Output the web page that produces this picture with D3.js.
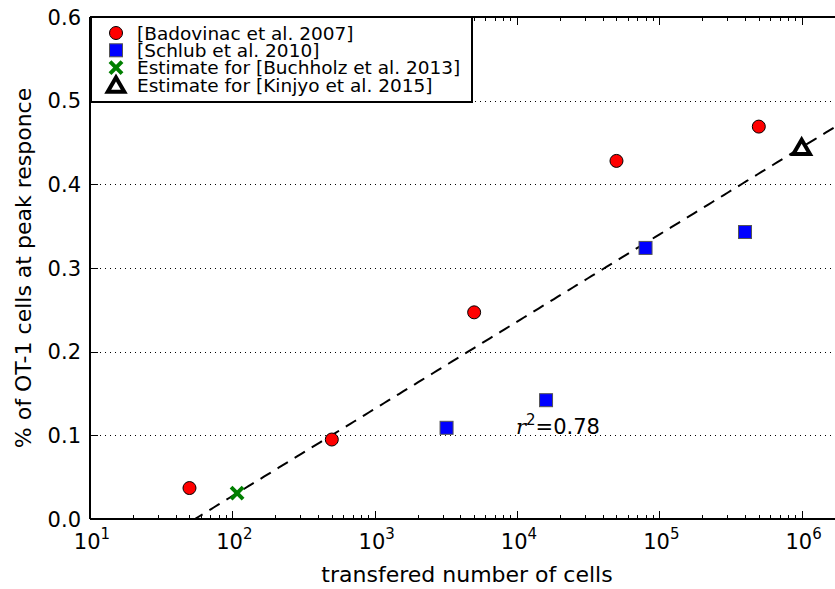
<!DOCTYPE html>
<html>
<head>
<meta charset="utf-8">
<script src="https://cdn.jsdelivr.net/npm/d3@7"></script>
<style>
  body { margin: 0; background: #fff; }
  svg { display: block; font-family: 'DejaVu Sans', sans-serif; }
</style>
</head>
<body>
<svg id="chart" width="835" height="589"></svg>
<script>
// data
const badovinacX = [50, 500, 5000, 50000, 500000]
const badovinacY = [0.037, 0.095, 0.247, 0.428, 0.469]
const schlubX = [3200, 16000, 80000, 400000]
const schlubY = [0.109, 0.142, 0.324, 0.343]
const buchholzX = [108]
const buchholzY = [0.031]
const kinjyoX = [1000000]
const kinjyoY = [0.443]
const fitIntercept = -0.181
const fitSlope = 0.1042
const rSquared = '0.78'
const yTicks = [0.0, 0.1, 0.2, 0.3, 0.4, 0.5, 0.6]
const xTicks = [1e1, 1e2, 1e3, 1e4, 1e5, 1e6]
const legendLabels = [
  '[Badovinac et al. 2007]',
  '[Schlub et al. 2010]',
  'Estimate for [Buchholz et al. 2013]',
  'Estimate for [Kinjyo et al. 2015]'
]

const svg = d3.select('#chart')
const margin = { left: 90, top: 17, bottom: 519 }

const x = d3.scaleLog().domain([10, 2e6]).range([margin.left, margin.left + 142.33 * Math.log10(2e5)])
const y = d3.scaleLinear().domain([0, 0.6]).range([margin.bottom, margin.top])
const xRight = x.range()[1]

// dotted horizontal grid
svg.append('g')
  .selectAll('line')
  .data(yTicks.filter((d) => d > 0 && d < 0.6))
  .join('line')
  .attr('x1', margin.left)
  .attr('x2', xRight)
  .attr('y1', (d) => Math.round(y(d)) + 0.5)
  .attr('y2', (d) => Math.round(y(d)) + 0.5)
  .attr('stroke', '#000')
  .attr('stroke-width', 1)
  .attr('stroke-dasharray', '1,4')

// clip for plot area
svg.append('clipPath').attr('id', 'plotClip')
  .append('rect')
  .attr('x', margin.left).attr('y', margin.top)
  .attr('width', xRight - margin.left).attr('height', margin.bottom - margin.top)

// regression line
const lineData = d3.range(0, 201).map((i) => {
  const lx = 1 + (Math.log10(2e6) - 1) * i / 200
  return [Math.pow(10, lx), fitIntercept + fitSlope * lx]
})
svg.append('path')
  .datum(lineData)
  .attr('clip-path', 'url(#plotClip)')
  .attr('fill', 'none')
  .attr('stroke', '#000')
  .attr('stroke-width', 2)
  .attr('stroke-dasharray', '12,8')
  .attr('d', d3.line().x((d) => x(d[0])).y((d) => y(d[1])))

// axes frame
const frame = svg.append('g')
frame.append('line').attr('x1', margin.left).attr('x2', xRight).attr('y1', margin.bottom).attr('y2', margin.bottom)
frame.append('line').attr('x1', margin.left).attr('x2', xRight).attr('y1', margin.top).attr('y2', margin.top)
frame.append('line').attr('x1', margin.left).attr('x2', margin.left).attr('y1', margin.top).attr('y2', margin.bottom)
frame.selectAll('line').attr('stroke', '#000').attr('stroke-width', 2)

// x ticks (major + minor), inward on bottom and top
const minor = []
for (let e = 1; e < 7; e++) for (let m = 2; m < 10; m++) {
  const v = m * Math.pow(10, e)
  if (v <= 2e6) minor.push(v)
}
const tickG = svg.append('g').attr('stroke', '#000')
function xTickMarks(vals, len, w) {
  tickG.selectAll(null).data(vals).join('line')
    .attr('x1', (d) => Math.round(x(d)) + 0.5).attr('x2', (d) => Math.round(x(d)) + 0.5)
    .attr('y1', margin.bottom).attr('y2', margin.bottom - len).attr('stroke-width', w)
  tickG.selectAll(null).data(vals).join('line')
    .attr('x1', (d) => Math.round(x(d)) + 0.5).attr('x2', (d) => Math.round(x(d)) + 0.5)
    .attr('y1', margin.top).attr('y2', margin.top + len).attr('stroke-width', w)
}
xTickMarks(xTicks, 8, 1)
xTickMarks(minor, 4, 1)
tickG.selectAll(null).data(yTicks).join('line')
  .attr('x1', margin.left).attr('x2', margin.left + 8)
  .attr('y1', (d) => Math.round(y(d)) + 0.5).attr('y2', (d) => Math.round(y(d)) + 0.5)
  .attr('stroke-width', 1)

// x tick labels with superscript
const xl = svg.append('g').selectAll('text').data(xTicks).join('text')
  .attr('x', (d) => x(d) + 2)
  .attr('y', 549)
  .attr('text-anchor', 'middle')
  .attr('font-size', 21)
xl.append('tspan').text('10')
xl.append('tspan').attr('dy', -10).attr('font-size', 15).text((d) => Math.round(Math.log10(d)))

// y tick labels
svg.append('g').selectAll('text').data(yTicks).join('text')
  .attr('x', 81)
  .attr('y', (d) => y(d))
  .attr('dy', '0.36em')
  .attr('text-anchor', 'end')
  .attr('font-size', 21)
  .text((d) => d3.format('.1f')(d))

// axis labels
svg.append('text')
  .attr('x', 467)
  .attr('y', 582)
  .attr('text-anchor', 'middle')
  .attr('font-size', 22)
  .text('transfered number of cells')
svg.append('text')
  .attr('transform', `translate(31,${(margin.top + margin.bottom) / 2}) rotate(-90)`)
  .attr('text-anchor', 'middle')
  .attr('font-size', 22)
  .text('% of OT-1 cells at peak responce')

// markers
const pts = svg.append('g')
pts.selectAll('circle').data(d3.zip(badovinacX, badovinacY)).join('circle')
  .attr('cx', (d) => x(d[0])).attr('cy', (d) => y(d[1]))
  .attr('r', 6.5).attr('fill', '#ff0000').attr('stroke', '#000').attr('stroke-width', 1)
pts.selectAll('rect').data(d3.zip(schlubX, schlubY)).join('rect')
  .attr('x', (d) => x(d[0]) - 6.5).attr('y', (d) => y(d[1]) - 6.5)
  .attr('width', 13).attr('height', 13)
  .attr('fill', '#0000ff').attr('stroke', '#555').attr('stroke-width', 1)
const crossPath = (cx, cy, s) => `M${cx - s},${cy - s}L${cx + s},${cy + s}M${cx - s},${cy + s}L${cx + s},${cy - s}`
pts.selectAll('path.cross').data(d3.zip(buchholzX, buchholzY)).join('path')
  .attr('class', 'cross')
  .attr('d', (d) => crossPath(x(d[0]), y(d[1]), 6))
  .attr('stroke', '#007f00').attr('stroke-width', 4).attr('fill', 'none')
const triPath = (cx, cy, s) => `M${cx},${cy - s}L${cx + s * 0.87},${cy + s * 0.5}L${cx - s * 0.87},${cy + s * 0.5}Z`
pts.selectAll('path.tri').data(d3.zip(kinjyoX, kinjyoY)).join('path')
  .attr('class', 'tri')
  .attr('d', (d) => triPath(x(d[0]), y(d[1]) + 1, 9.5))
  .attr('fill', '#fff').attr('stroke', '#000').attr('stroke-width', 4).attr('stroke-linejoin', 'miter')

// r^2 annotation
const rt = svg.append('text').attr('x', 516).attr('y', 434).attr('font-size', 21)
rt.append('tspan').attr('font-family', 'DejaVu Serif').attr('font-style', 'italic').text('r')
rt.append('tspan').attr('dy', -9).attr('font-size', 15).text('2')
rt.append('tspan').attr('dy', 9).text('=' + rSquared)

// legend
const legend = svg.append('g')
legend.append('rect')
  .attr('x', 91).attr('y', 17).attr('width', 381).attr('height', 85)
  .attr('fill', '#fff').attr('stroke', '#000').attr('stroke-width', 2)
const rowY = (i) => 33 + i * 17.3
legend.append('circle').attr('cx', 116).attr('cy', rowY(0)).attr('r', 6.5)
  .attr('fill', '#ff0000').attr('stroke', '#000')
legend.append('rect').attr('x', 109.5).attr('y', rowY(1) - 6.5).attr('width', 13).attr('height', 13)
  .attr('fill', '#0000ff').attr('stroke', '#555')
legend.append('path').attr('d', crossPath(116, rowY(2), 6))
  .attr('stroke', '#007f00').attr('stroke-width', 4)
legend.append('path').attr('d', triPath(116, rowY(3) + 2, 9.5))
  .attr('fill', '#fff').attr('stroke', '#000').attr('stroke-width', 4)
legend.selectAll('text').data(legendLabels).join('text')
  .attr('x', 137).attr('y', (d, i) => rowY(i)).attr('dy', '0.36em')
  .attr('font-size', 18.5)
  .text((d) => d)
</script>
</body>
</html>
